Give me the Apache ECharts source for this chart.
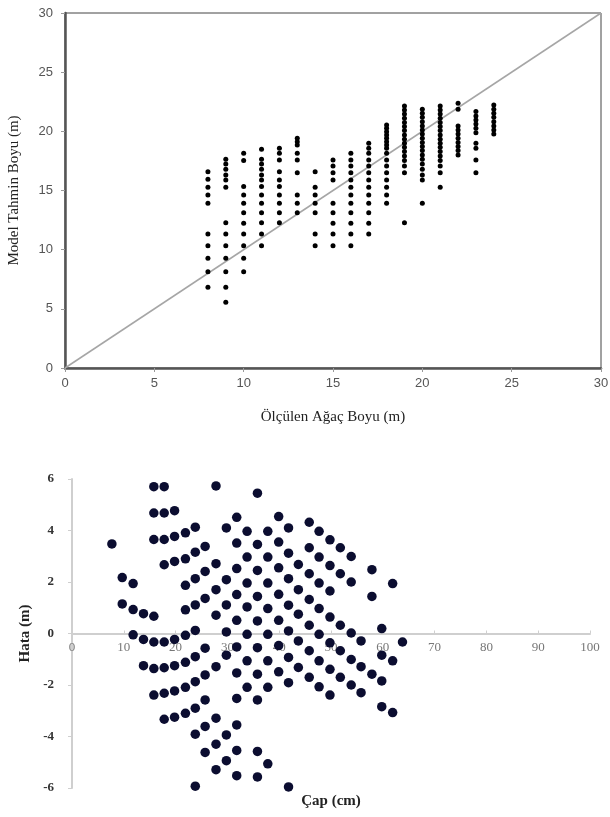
<!DOCTYPE html>
<html>
<head>
<meta charset="utf-8">
<script src="https://cdn.jsdelivr.net/npm/echarts@6/dist/echarts.min.js"></script>
<style>html,body{margin:0;padding:0;background:#fff}#c{width:610px;height:817px}</style>
</head>
<body>
<div id="c"></div>
<script>
// ---- Top chart: measured height (x) vs model predicted height (y) ----
var measuredHeights = [8, 9, 10, 11, 12, 13, 14, 15, 16, 17, 18, 19, 20, 21, 22, 23, 24];
var predictedHeights = [
  [16.59, 15.95, 15.28, 14.62, 13.92, 11.33, 10.34, 9.27, 8.14, 6.82],
  [17.64, 17.24, 16.80, 16.31, 15.89, 15.27, 12.28, 11.33, 10.34, 9.27, 8.14, 6.82, 5.55],
  [18.15, 17.53, 15.33, 14.62, 13.92, 13.13, 12.23, 11.33, 10.34, 9.27, 8.14],
  [18.48, 17.64, 17.24, 16.80, 16.31, 15.89, 15.33, 14.62, 13.92, 13.13, 12.28, 11.33, 10.34],
  [18.57, 18.15, 17.58, 16.59, 15.89, 15.33, 14.62, 13.92, 13.13, 12.28],
  [19.41, 19.13, 18.85, 18.15, 17.58, 16.51, 14.62, 13.92, 13.13],
  [16.59, 15.27, 14.62, 13.92, 13.13, 11.33, 10.34],
  [17.58, 17.08, 16.51, 15.89, 13.92, 13.13, 12.23, 11.33, 10.34],
  [18.15, 17.58, 17.08, 16.51, 15.89, 15.27, 14.62, 13.92, 13.13, 12.23, 11.33, 10.34],
  [18.99, 18.57, 18.15, 17.58, 17.08, 16.51, 15.89, 15.27, 14.62, 13.92, 13.13, 12.23, 11.33],
  [20.54, 20.26, 19.97, 19.70, 19.41, 19.13, 18.85, 18.57, 18.15, 17.58, 17.08, 16.51, 15.89, 15.27, 14.62, 13.92],
  [22.15, 21.81, 21.47, 21.11, 20.74, 20.40, 20.06, 19.70, 19.33, 18.99, 18.66, 18.29, 17.92, 17.53, 17.08, 16.51, 12.28],
  [21.87, 21.53, 21.19, 20.82, 20.46, 20.12, 19.78, 19.41, 19.05, 18.71, 18.37, 18.00, 17.64, 17.24, 16.80, 16.31, 15.89, 13.92],
  [22.15, 21.81, 21.47, 21.11, 20.74, 20.40, 20.06, 19.70, 19.33, 18.99, 18.66, 18.29, 17.92, 17.53, 17.08, 16.51, 15.27],
  [22.37, 21.87, 20.46, 20.12, 19.78, 19.41, 19.05, 18.71, 18.37, 18.00],
  [21.67, 21.30, 20.96, 20.63, 20.26, 19.89, 18.99, 18.57, 17.58, 16.51],
  [22.23, 21.87, 21.53, 21.19, 20.82, 20.46, 20.12, 19.78]
];
var oneToOneLine = [[0, 0], [30, 30]];

// ---- Bottom chart: diameter (x) vs error (y) ----
var diameters = [7.7, 9.7, 11.8, 13.8, 15.8, 17.8, 19.8, 21.9, 23.8, 25.7, 27.8, 29.8, 31.8, 33.8, 35.8, 37.8, 39.9, 41.8, 43.7, 45.8, 47.7, 49.8, 51.8, 53.9, 55.8, 57.9, 59.8, 61.9, 63.8];
var errors = [
  [3.48],
  [2.17, 1.15],
  [1.94, 0.93, -0.05],
  [0.77, -0.23, -1.25],
  [5.70, 4.68, 3.65, 0.67, -0.33, -1.36, -2.39],
  [5.70, 4.68, 3.65, 2.67, -0.33, -1.33, -2.32, -3.33],
  [4.77, 3.77, 2.80, -0.23, -1.25, -2.23, -3.25],
  [3.91, 2.90, 1.87, 0.92, -0.07, -1.12, -2.09, -3.10],
  [4.13, 3.16, 2.13, 1.11, 0.12, -0.90, -1.87, -2.90, -3.91, -5.93],
  [3.38, 2.41, 1.36, -0.57, -1.61, -2.58, -3.61, -4.62],
  [5.73, 2.71, 1.70, 0.71, -1.29, -3.29, -4.30, -5.29],
  [4.10, 2.09, 1.11, 0.06, -0.84, -3.94, -4.94],
  [4.51, 3.51, 2.52, 1.51, 0.51, -0.52, -1.53, -2.52, -3.55, -4.54, -5.52],
  [3.97, 2.97, 1.96, 1.03, -0.03, -1.06, -2.09],
  [5.45, 3.46, 2.45, 1.44, 0.49, -0.55, -1.58, -2.58, -4.58, -5.57],
  [3.97, 2.97, 1.96, 0.97, -0.03, -1.06, -2.09, -5.06],
  [4.54, 3.55, 2.55, 1.52, 0.51, -0.47, -1.49],
  [4.10, 3.12, 2.13, 1.10, 0.10, -0.93, -1.91, -5.96],
  [2.68, 1.70, 0.75, -0.29, -1.32],
  [4.32, 3.33, 2.32, 1.32, 0.32, -0.67, -1.70],
  [3.97, 2.97, 1.96, 0.97, -0.03, -1.06, -2.07],
  [3.64, 2.64, 1.65, 0.64, -0.36, -1.39, -2.39],
  [3.33, 2.32, 0.32, -0.67, -1.70],
  [2.99, 2.00, 0.02, -1.01, -2.00],
  [-0.29, -1.29, -2.30],
  [2.48, 1.44, -1.58],
  [0.19, -0.84, -1.84, -2.84],
  [1.94, -1.06, -3.07],
  [-0.33]
];

var topTitleX = 'Ölçülen Ağaç Boyu (m)';
var topTitleY = 'Model Tahmin Boyu (m)';
var bottomTitleX = 'Çap (cm)';
var bottomTitleY = 'Hata (m)';

function pairs(xs, yss) {
  var out = [];
  xs.forEach(function (x, i) { yss[i].forEach(function (y) { out.push([x, y]); }); });
  return out;
}

var serif = '"Liberation Serif", "DejaVu Serif", serif';
var sans = '"Liberation Sans", "DejaVu Sans", sans-serif';
var bottomGridHeight = 309;

var chart = echarts.init(document.getElementById('c'), null, { renderer: 'canvas' });
chart.setOption({
  animation: false,
  backgroundColor: '#ffffff',
  grid: [
    { left: 65, right: 9, top: 13, height: 355, show: true, borderColor: '#444', borderWidth: 1,
      backgroundColor: 'transparent', containLabel: false, outerBoundsMode: 'none' },
    { left: 72, right: 20, top: 479, height: bottomGridHeight, containLabel: false, outerBoundsMode: 'none' }
  ],
  xAxis: [
    {
      gridIndex: 0, type: 'value', min: 0, max: 30, interval: 5,
      name: topTitleX, nameLocation: 'middle', nameGap: 42,
      nameTextStyle: { fontFamily: serif, fontSize: 15, color: '#222' },
      axisLine: { show: true, lineStyle: { color: '#555', width: 2.5 } },
      axisTick: { show: true, length: 4, lineStyle: { color: '#999' } },
      axisLabel: { margin: 9, fontFamily: sans, fontSize: 13, color: '#555' },
      splitLine: { show: false }
    },
    {
      // axis drawn through error = 0 (middle of the -6..6 range)
      gridIndex: 1, type: 'value', min: 0, max: 100, interval: 10,
      position: 'bottom', offset: -bottomGridHeight / 2,
      name: bottomTitleX, nameLocation: 'middle', nameGap: 160,
      nameTextStyle: { fontFamily: serif, fontSize: 15, fontWeight: 'bold', color: '#222' },
      axisLine: { show: true, onZero: false, lineStyle: { color: '#cfcfcf', width: 2 } },
      axisTick: { show: true, inside: true, length: 3, lineStyle: { color: '#cfcfcf' } },
      axisLabel: { margin: 8, fontFamily: serif, fontSize: 13, color: '#777' },
      splitLine: { show: false }
    }
  ],
  yAxis: [
    {
      gridIndex: 0, type: 'value', min: 0, max: 30, interval: 5,
      name: topTitleY, nameLocation: 'middle', nameGap: 43,
      nameTextStyle: { fontFamily: serif, fontSize: 15, color: '#222' },
      axisLine: { show: true, lineStyle: { color: '#555', width: 2.5 } },
      axisTick: { show: true, length: 4, lineStyle: { color: '#999' } },
      axisLabel: { margin: 12, fontFamily: sans, fontSize: 13, color: '#555' },
      splitLine: { show: false }
    },
    {
      gridIndex: 1, type: 'value', min: -6, max: 6, interval: 2,
      name: bottomTitleY, nameLocation: 'middle', nameGap: 32,
      nameTextStyle: { fontFamily: serif, fontSize: 15, fontWeight: 'bold', color: '#222' },
      axisLine: { show: true, lineStyle: { color: '#cfcfcf', width: 2 } },
      axisTick: { show: true, length: 4, lineStyle: { color: '#cfcfcf' } },
      axisLabel: { margin: 18, fontFamily: serif, fontSize: 13, fontWeight: 'bold', color: '#333' },
      splitLine: { show: false }
    }
  ],
  series: [
    {
      type: 'line', xAxisIndex: 0, yAxisIndex: 0, data: oneToOneLine,
      symbol: 'none', lineStyle: { color: '#a6a6a6', width: 1.5 }, z: 1
    },
    {
      type: 'scatter', xAxisIndex: 0, yAxisIndex: 0, data: pairs(measuredHeights, predictedHeights),
      symbolSize: 5, itemStyle: { color: '#000', opacity: 1 }, z: 2
    },
    {
      type: 'scatter', xAxisIndex: 1, yAxisIndex: 1, data: pairs(diameters, errors),
      symbolSize: 9.5, itemStyle: { color: '#0b0d30', opacity: 1 }, z: 2
    }
  ]
});
</script>
</body>
</html>
